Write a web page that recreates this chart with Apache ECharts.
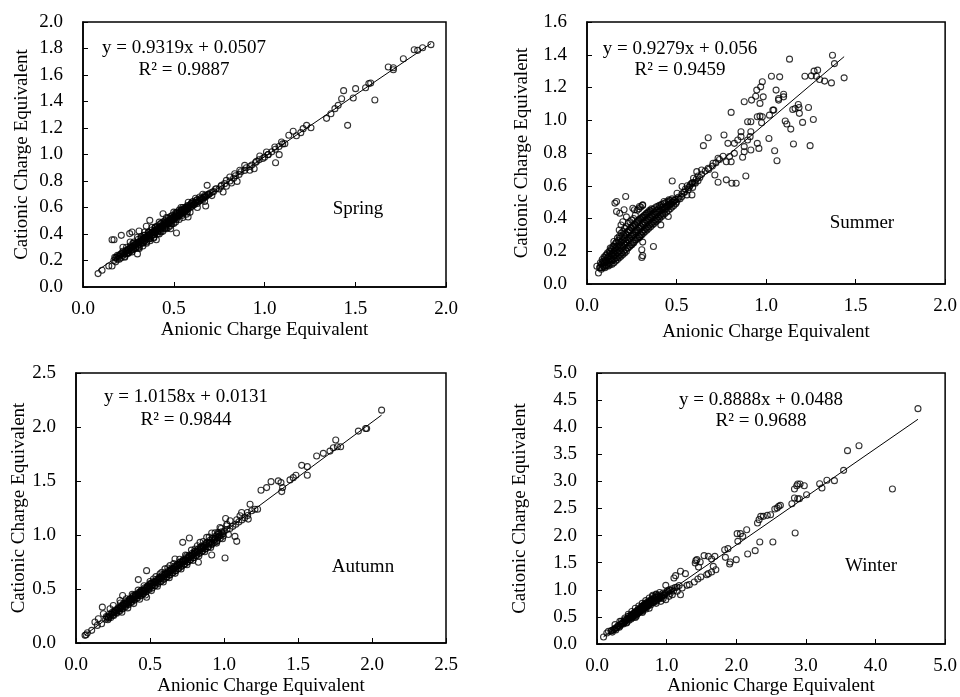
<!DOCTYPE html>
<html>
<head>
<meta charset="utf-8">
<script src="https://cdn.jsdelivr.net/npm/echarts@6/dist/echarts.min.js"></script>
<style>html,body{margin:0;padding:0;background:#fff;}#c{width:960px;height:697px;}</style>
</head>
<body>
<div id="c"></div>
<script>
// ---------- DATA ----------
const seasons = ["Spring", "Summer", "Autumn", "Winter"];
const slopes = [0.9319, 0.9279, 1.0158, 0.8888];
const intercepts = [0.0507, 0.056, 0.0131, 0.0488];
const r2Values = ["0.9887", "0.9459", "0.9844", "0.9688"];
const xMaxes = [2.0, 2.0, 2.5, 5.0];
const yMaxes = [2.0, 1.6, 2.5, 5.0];
const xIntervals = [0.5, 0.5, 0.5, 1.0];
const yIntervals = [0.2, 0.2, 0.5, 0.5];
const axisNameX = "Anionic Charge Equivalent";
const axisNameY = "Cationic Charge Equivalent";

const springPoints = [
[1.917,1.829],[1.871,1.806],[1.844,1.786],[1.825,1.791],[1.765,1.723],[1.710,1.655],[1.682,1.660],[1.71,1.64],
[1.585,1.54],[1.575,1.535],[1.557,1.504],[1.502,1.497],[1.489,1.426],[1.436,1.482],[1.425,1.421],[1.608,1.411],
[1.406,1.371],[1.388,1.346],[1.366,1.308],[1.342,1.273],[1.458,1.220],[1.256,1.202],[1.232,1.220],[1.213,1.195],
[1.200,1.165],[1.176,1.142],[1.158,1.175],[1.134,1.145],[1.112,1.082],[1.094,1.094],[1.057,1.057],[1.081,0.999],
[1.061,0.938],[1.011,1.019],[1.020,0.999],[0.974,0.989],[0.956,0.948],[0.943,0.893],[0.919,0.881],[0.891,0.918],
[0.864,0.881],[0.836,0.855],[0.809,0.830],[0.849,0.797],[0.790,0.805],[0.818,0.785],[0.763,0.767],[0.735,0.742],
[0.772,0.717],[0.713,0.717],[0.684,0.767],[0.676,0.611],[0.671,0.692],[0.643,0.679],[0.625,0.654],[0.597,0.629],
[0.579,0.528],[0.570,0.604],[0.542,0.579],[0.515,0.553],[0.515,0.408],[0.487,0.516],[0.483,0.440],[0.441,0.553],
[0.368,0.503],[0.349,0.458],[0.309,0.423],[0.270,0.415],[0.257,0.403],[0.211,0.390],[0.171,0.357],[0.160,0.357],
[0.160,0.158],[0.142,0.158],[0.105,0.126],[0.083,0.101],[0.404,0.357],
[0.17,0.20],[0.18,0.22],[0.18,0.19],[0.19,0.21],[0.19,0.24],[0.20,0.23],[0.20,0.21],[0.21,0.25],[0.21,0.22],
[0.22,0.24],[0.22,0.27],[0.23,0.25],[0.23,0.23],[0.24,0.27],[0.24,0.25],[0.25,0.28],[0.25,0.26],[0.26,0.29],
[0.26,0.27],[0.26,0.31],[0.27,0.28],[0.27,0.30],[0.28,0.31],[0.28,0.29],[0.28,0.33],[0.29,0.30],[0.29,0.32],
[0.30,0.33],[0.30,0.31],[0.30,0.25],[0.31,0.34],[0.31,0.32],[0.31,0.29],[0.32,0.35],[0.32,0.33],[0.32,0.37],
[0.33,0.34],[0.33,0.36],[0.33,0.31],[0.34,0.37],[0.34,0.35],[0.34,0.39],[0.35,0.36],[0.35,0.38],[0.35,0.33],
[0.36,0.39],[0.36,0.37],[0.36,0.41],[0.37,0.38],[0.37,0.40],[0.37,0.35],[0.38,0.41],[0.38,0.39],[0.38,0.43],
[0.39,0.40],[0.39,0.42],[0.39,0.37],[0.40,0.43],[0.40,0.41],[0.40,0.45],[0.41,0.42],[0.41,0.44],[0.41,0.46],
[0.42,0.45],[0.42,0.43],[0.42,0.40],[0.43,0.46],[0.43,0.44],[0.43,0.48],[0.44,0.45],[0.44,0.47],[0.44,0.42],
[0.45,0.48],[0.45,0.46],[0.45,0.50],[0.46,0.47],[0.46,0.49],[0.46,0.44],[0.47,0.50],[0.47,0.48],[0.47,0.52],
[0.48,0.49],[0.48,0.51],[0.48,0.46],[0.49,0.52],[0.49,0.50],[0.49,0.54],[0.50,0.51],[0.50,0.53],[0.50,0.48],
[0.51,0.54],[0.51,0.52],[0.51,0.56],[0.52,0.53],[0.52,0.55],[0.53,0.56],[0.53,0.54],[0.53,0.58],[0.54,0.55],
[0.54,0.57],[0.55,0.58],[0.55,0.56],[0.55,0.60],[0.56,0.57],[0.56,0.59],[0.57,0.60],[0.57,0.58],[0.58,0.61],
[0.58,0.59],[0.59,0.62],[0.60,0.61],[0.60,0.63],[0.61,0.62],[0.62,0.64],[0.63,0.63],[0.63,0.66],[0.64,0.65],
[0.65,0.67],[0.66,0.66],[0.67,0.68],[0.68,0.69],[0.69,0.70],[0.70,0.71],[0.71,0.69],[0.72,0.72],[0.73,0.74],
[0.75,0.74],[0.76,0.76],[0.78,0.78],[0.79,0.76],[0.81,0.80],[0.83,0.82],[0.84,0.84],[0.86,0.85],[0.87,0.87],
[0.89,0.88],[0.90,0.90],[0.92,0.91],[0.93,0.92],[0.95,0.94],[0.97,0.96],[0.99,0.97],[1.00,0.98],[1.02,1.00],
[1.04,1.02],[1.06,1.04],[1.08,1.06],[1.10,1.08]
];
const springCore = [
[0.175,0.225],[0.185,0.225],[0.195,0.235],[0.205,0.245],[0.215,0.255],[0.225,0.26],[0.235,0.275],[0.245,0.28],
[0.255,0.29],[0.265,0.30],[0.275,0.31],[0.285,0.32],[0.295,0.325],[0.305,0.34],[0.315,0.345],[0.325,0.355],
[0.335,0.365],[0.345,0.375],[0.355,0.385],[0.365,0.39],[0.375,0.405],[0.385,0.41],[0.395,0.42],[0.405,0.43],
[0.415,0.44],[0.425,0.45],[0.435,0.455],[0.445,0.47],[0.455,0.475],[0.465,0.485],[0.475,0.495],[0.485,0.505],
[0.495,0.515],[0.505,0.52],[0.515,0.535],[0.525,0.54],[0.535,0.55],[0.545,0.56],[0.555,0.57],[0.565,0.58],
[0.575,0.59],[0.585,0.60],[0.595,0.605],[0.605,0.62],[0.615,0.625],[0.625,0.64],[0.635,0.645],[0.645,0.655],
[0.655,0.665],[0.665,0.675],[0.675,0.68],[0.685,0.695],[0.695,0.70],
[0.245,0.255],[0.275,0.285],[0.305,0.30],[0.335,0.335],[0.365,0.365],[0.395,0.395],[0.425,0.42],[0.455,0.45],
[0.485,0.48],[0.515,0.51],[0.545,0.54],[0.575,0.565],
[0.275,0.33],[0.305,0.36],[0.335,0.39],[0.365,0.415],[0.395,0.445],[0.425,0.475],[0.455,0.50],[0.485,0.53],
[0.515,0.56],[0.545,0.585],[0.575,0.615],[0.605,0.645]
];
const springSpread = [
[0.22,0.30],[0.23,0.225],[0.26,0.34],[0.27,0.265],[0.30,0.375],[0.31,0.30],[0.34,0.415],[0.35,0.34],
[0.38,0.45],[0.39,0.375],[0.42,0.49],[0.43,0.415],[0.46,0.525],[0.47,0.45],[0.50,0.565],[0.51,0.49],
[0.54,0.60],[0.55,0.525],[0.58,0.64],[0.59,0.565],[0.62,0.67],[0.63,0.60],[0.66,0.70],[0.67,0.645],
[0.24,0.30],[0.28,0.34],[0.32,0.38],[0.36,0.415],[0.40,0.455],[0.44,0.49],[0.48,0.53],[0.52,0.565],
[0.56,0.60],[0.60,0.64],[0.25,0.255],[0.29,0.29],[0.33,0.33],[0.37,0.365],[0.41,0.40],[0.45,0.44],
[0.49,0.475],[0.53,0.51],[0.57,0.55]
];

const summerPoints = [
[1.371,1.397],[1.382,1.346],[1.131,1.373],[1.436,1.259],[1.365,1.228],[1.327,1.239],[1.299,1.249],[1.288,1.306],
[1.268,1.300],[1.253,1.271],[1.217,1.269],[1.281,1.269],[1.237,1.078],[1.264,1.005],[1.246,0.845],[1.204,0.987],
[1.180,1.096],[1.186,1.042],[1.162,1.072],[1.149,1.066],[1.184,1.078],[1.107,0.995],[1.116,0.977],[1.138,0.946],
[1.153,0.855],[1.098,1.159],[1.098,1.143],[1.070,1.133],[1.070,1.123],[1.056,1.184],[1.076,1.265],[1.030,1.269],
[1.038,1.062],[1.043,1.062],[1.019,1.031],[1.016,0.889],[1.048,0.814],[1.061,0.753],[0.979,1.235],[0.970,1.204],
[0.948,1.184],[0.984,1.143],[0.942,1.147],[0.966,1.103],[0.919,1.123],[0.878,1.113],[0.805,1.048],[0.966,1.025],
[0.979,1.021],[0.951,1.021],[0.915,0.991],[0.897,0.991],[0.975,0.985],[0.915,0.930],[0.860,0.930],[0.911,0.900],
[0.897,0.879],[0.878,0.839],[0.860,0.900],[0.842,0.879],[0.823,0.859],[0.787,0.859],[0.765,0.910],[0.677,0.893],
[0.650,0.845],[0.951,0.859],[0.960,0.828],[0.915,0.818],[0.878,0.808],[0.869,0.774],[0.823,0.798],[0.796,0.778],
[0.778,0.747],[0.805,0.747],[0.732,0.768],[0.704,0.737],[0.714,0.666],[0.732,0.621],[0.778,0.636],[0.809,0.615],
[0.833,0.615],[0.887,0.660],[0.677,0.707],[0.640,0.696],[0.613,0.686],[0.595,0.646],[0.586,0.615],[0.586,0.544],
[0.558,0.544],[0.531,0.595],[0.503,0.554],[0.476,0.629],[0.457,0.514],[0.430,0.504],[0.454,0.412],[0.412,0.361],
[0.371,0.229],[0.311,0.483],[0.293,0.473],[0.256,0.463],[0.265,0.453],[0.216,0.534],[0.207,0.453],[0.165,0.504],
[0.156,0.494],[0.165,0.443],[0.183,0.432],[0.311,0.256],[0.306,0.209],[0.311,0.173],[0.306,0.162],[0.293,0.284],
[0.064,0.067],[0.055,0.108],
[0.07,0.10],[0.08,0.12],[0.08,0.09],[0.09,0.11],[0.09,0.14],[0.10,0.10],[0.10,0.13],[0.10,0.16],[0.11,0.11],
[0.11,0.14],[0.11,0.18],[0.12,0.11],[0.12,0.14],[0.12,0.17],[0.13,0.12],[0.13,0.15],[0.13,0.19],[0.13,0.22],
[0.14,0.12],[0.14,0.15],[0.14,0.18],[0.14,0.21],[0.15,0.13],[0.15,0.17],[0.15,0.20],[0.15,0.23],[0.15,0.26],
[0.16,0.14],[0.16,0.18],[0.16,0.22],[0.16,0.25],[0.17,0.15],[0.17,0.19],[0.17,0.23],[0.17,0.28],[0.18,0.16],
[0.18,0.20],[0.18,0.24],[0.18,0.29],[0.18,0.33],[0.19,0.17],[0.19,0.22],[0.19,0.26],[0.19,0.31],[0.19,0.36],
[0.20,0.18],[0.20,0.23],[0.20,0.27],[0.20,0.32],[0.20,0.38],[0.21,0.19],[0.21,0.24],[0.21,0.28],[0.21,0.34],
[0.22,0.20],[0.22,0.25],[0.22,0.30],[0.22,0.35],[0.22,0.41],[0.23,0.22],[0.23,0.27],[0.23,0.32],[0.23,0.37],
[0.24,0.23],[0.24,0.28],[0.24,0.33],[0.24,0.38],[0.25,0.24],[0.25,0.29],[0.25,0.34],[0.25,0.39],[0.26,0.25],
[0.26,0.30],[0.26,0.35],[0.26,0.40],[0.27,0.27],[0.27,0.32],[0.27,0.36],[0.27,0.42],[0.28,0.28],[0.28,0.33],
[0.28,0.38],[0.28,0.45],[0.29,0.29],[0.29,0.34],[0.29,0.39],[0.29,0.46],[0.30,0.30],[0.30,0.35],[0.30,0.40],
[0.30,0.47],[0.31,0.32],[0.31,0.37],[0.31,0.41],[0.31,0.48],[0.32,0.33],[0.32,0.38],[0.32,0.42],[0.33,0.34],
[0.33,0.39],[0.33,0.43],[0.34,0.35],[0.34,0.40],[0.34,0.44],[0.35,0.36],[0.35,0.41],[0.35,0.45],[0.36,0.37],
[0.36,0.42],[0.36,0.46],[0.37,0.38],[0.37,0.43],[0.38,0.39],[0.38,0.44],[0.39,0.40],[0.39,0.45],[0.40,0.41],
[0.40,0.46],[0.41,0.42],[0.41,0.47],[0.42,0.43],[0.42,0.47],[0.43,0.45],[0.44,0.46],[0.45,0.47],[0.46,0.48],
[0.47,0.49],[0.48,0.50],[0.49,0.51],[0.50,0.50],[0.51,0.53],[0.52,0.52],[0.53,0.55],[0.54,0.56],[0.55,0.58],
[0.56,0.60],[0.57,0.59],[0.58,0.61],[0.59,0.62],[0.60,0.62],[0.61,0.64],[0.62,0.66],[0.63,0.65],[0.64,0.67],
[0.66,0.69],[0.68,0.70],[0.70,0.72],[0.72,0.74],[0.74,0.76],[0.76,0.78]
];
const summerCore = [
[0.075,0.10],[0.075,0.13],[0.085,0.10],[0.085,0.125],[0.085,0.15],[0.095,0.105],[0.095,0.135],[0.095,0.165],
[0.105,0.115],[0.105,0.145],[0.105,0.175],[0.115,0.12],[0.115,0.16],[0.115,0.19],[0.125,0.13],[0.125,0.165],
[0.125,0.20],[0.135,0.14],[0.135,0.18],[0.135,0.215],[0.145,0.145],[0.145,0.19],[0.145,0.23],[0.155,0.155],
[0.155,0.20],[0.155,0.24],[0.165,0.16],[0.165,0.21],[0.165,0.255],[0.175,0.17],[0.175,0.22],[0.175,0.265],
[0.185,0.18],[0.185,0.23],[0.185,0.28],[0.195,0.19],[0.195,0.24],[0.195,0.29],[0.205,0.20],[0.205,0.25],
[0.205,0.30],[0.215,0.21],[0.215,0.26],[0.215,0.31],[0.225,0.22],[0.225,0.27],[0.225,0.32],[0.235,0.23],
[0.235,0.28],[0.235,0.33],[0.245,0.24],[0.245,0.29],[0.245,0.345],[0.255,0.25],[0.255,0.30],[0.255,0.355],
[0.265,0.26],[0.265,0.31],[0.265,0.365],[0.275,0.27],[0.275,0.32],[0.275,0.375],[0.285,0.28],[0.285,0.33],
[0.285,0.385],[0.295,0.29],[0.295,0.34],[0.295,0.395],[0.305,0.30],[0.305,0.35],[0.305,0.405],[0.315,0.31],
[0.315,0.36],[0.315,0.41],[0.325,0.32],[0.325,0.37],[0.325,0.42],[0.335,0.33],[0.335,0.38],[0.335,0.43],
[0.345,0.34],[0.345,0.39],[0.345,0.44],[0.355,0.35],[0.355,0.40],[0.355,0.445],[0.365,0.36],[0.365,0.41],
[0.365,0.455],[0.375,0.37],[0.375,0.415],[0.375,0.46],[0.385,0.38],[0.385,0.425],[0.385,0.47],[0.395,0.39],
[0.395,0.435],[0.395,0.475],[0.405,0.40],[0.405,0.445],[0.405,0.48],[0.415,0.41],[0.415,0.45],[0.415,0.485],
[0.425,0.42],[0.425,0.46],[0.425,0.49],[0.435,0.43],[0.435,0.47],[0.435,0.495],[0.445,0.44],[0.445,0.475],
[0.445,0.50],[0.455,0.45],[0.455,0.485],[0.455,0.505],[0.465,0.46],[0.465,0.49],[0.465,0.51],[0.475,0.47],
[0.475,0.50],[0.475,0.52],[0.485,0.48],[0.485,0.51],[0.495,0.49],[0.495,0.515],[0.51,0.52],[0.53,0.535],
[0.545,0.56],[0.565,0.575],[0.575,0.60],[0.59,0.59],[0.605,0.615],[0.62,0.63]
];

const autumnPoints = [
[2.065,2.156],[1.964,1.986],[1.957,1.986],[1.908,1.962],[1.788,1.817],[1.766,1.817],[1.755,1.879],[1.739,1.808],
[1.716,1.777],[1.671,1.756],[1.626,1.731],[1.563,1.633],[1.563,1.553],[1.525,1.645],[1.486,1.553],[1.468,1.531],
[1.446,1.510],[1.396,1.439],[1.390,1.402],[1.385,1.485],[1.367,1.501],[1.318,1.494],[1.288,1.439],[1.250,1.415],
[1.227,1.239],[1.209,1.239],[1.176,1.285],[1.187,1.224],[1.158,1.208],[1.164,1.147],[1.119,1.208],[1.108,1.178],
[1.086,1.141],[1.074,0.987],[1.086,0.941],[1.041,1.132],[1.011,1.153],[1.007,0.787],[1.018,1.085],[0.973,1.070],
[0.962,1.024],[0.917,1.018],[0.883,0.978],[0.917,0.815],[0.838,0.932],[0.766,0.972],[0.721,0.932],[0.804,0.870],
[0.827,0.747],[0.748,0.809],[0.703,0.747],[0.669,0.778],[0.635,0.716],[0.601,0.686],[0.568,0.640],[0.477,0.670],
[0.523,0.593],[0.500,0.547],[0.421,0.587],[0.455,0.455],[0.477,0.424],[0.432,0.470],[0.387,0.440],[0.365,0.409],
[0.315,0.440],[0.297,0.394],[0.252,0.347],[0.230,0.317],[0.178,0.332],[0.185,0.271],[0.151,0.224],[0.128,0.194],
[0.106,0.117],[0.077,0.095],[0.068,0.077],[0.061,0.071],[0.173,0.178],[0.144,0.163],
[0.20,0.22],[0.21,0.24],[0.22,0.23],[0.23,0.25],[0.24,0.27],[0.25,0.26],[0.25,0.28],[0.26,0.29],[0.27,0.28],
[0.27,0.30],[0.28,0.31],[0.29,0.30],[0.29,0.32],[0.30,0.33],[0.31,0.32],[0.31,0.34],[0.32,0.35],[0.33,0.34],
[0.33,0.36],[0.34,0.37],[0.35,0.36],[0.35,0.38],[0.36,0.39],[0.37,0.38],[0.37,0.40],[0.38,0.41],[0.39,0.40],
[0.39,0.42],[0.40,0.43],[0.41,0.42],[0.41,0.44],[0.42,0.45],[0.43,0.44],[0.43,0.46],[0.44,0.47],[0.45,0.46],
[0.45,0.48],[0.46,0.49],[0.47,0.48],[0.47,0.50],[0.48,0.51],[0.49,0.50],[0.49,0.53],[0.50,0.52],[0.51,0.53],
[0.51,0.55],[0.52,0.54],[0.53,0.56],[0.53,0.53],[0.54,0.57],[0.55,0.56],[0.55,0.58],[0.56,0.59],[0.57,0.57],
[0.57,0.60],[0.58,0.61],[0.59,0.59],[0.59,0.62],[0.60,0.63],[0.61,0.61],[0.61,0.64],[0.62,0.65],[0.63,0.63],
[0.63,0.66],[0.64,0.67],[0.65,0.65],[0.65,0.68],[0.66,0.69],[0.67,0.67],[0.67,0.70],[0.68,0.71],[0.69,0.69],
[0.69,0.72],[0.70,0.73],[0.71,0.71],[0.71,0.74],[0.72,0.75],[0.73,0.73],[0.73,0.76],[0.74,0.77],[0.75,0.75],
[0.75,0.78],[0.76,0.79],[0.77,0.77],[0.77,0.80],[0.78,0.81],[0.79,0.79],[0.79,0.82],[0.80,0.83],[0.81,0.81],
[0.81,0.84],[0.82,0.85],[0.83,0.83],[0.83,0.86],[0.84,0.87],[0.85,0.85],[0.85,0.88],[0.86,0.89],[0.87,0.87],
[0.87,0.90],[0.88,0.91],[0.89,0.89],[0.90,0.92],[0.91,0.93],[0.92,0.92],[0.93,0.95],[0.94,0.96],[0.95,0.94],
[0.96,0.98],[0.97,0.99],[0.98,1.00],[0.99,1.01],[1.00,1.03],[1.02,1.05],[1.04,1.06],[1.06,1.08],[1.08,1.10],
[1.10,1.12],[1.12,1.14],[1.14,1.16],[1.16,1.18]
];
const autumnCore = [
[0.205,0.245],[0.215,0.215],[0.225,0.265],[0.235,0.235],[0.245,0.285],[0.255,0.255],[0.265,0.305],[0.275,0.275],
[0.285,0.325],[0.295,0.295],[0.305,0.345],[0.315,0.315],[0.325,0.365],[0.335,0.335],[0.345,0.385],[0.355,0.355],
[0.365,0.405],[0.375,0.375],[0.385,0.43],[0.395,0.395],[0.405,0.45],[0.415,0.415],[0.425,0.47],[0.435,0.435],
[0.445,0.49],[0.455,0.455],[0.465,0.51],[0.475,0.475],[0.485,0.53],[0.495,0.495],[0.505,0.55],[0.515,0.51],
[0.525,0.57],[0.535,0.53],[0.545,0.59],[0.555,0.55],[0.565,0.61],[0.575,0.57],[0.585,0.63],[0.595,0.59],
[0.605,0.65],[0.615,0.61],[0.625,0.67],[0.635,0.63],[0.645,0.69],[0.655,0.65],[0.665,0.71],[0.675,0.67],
[0.685,0.73],[0.695,0.69],[0.705,0.75],[0.715,0.71],[0.725,0.77],[0.735,0.73],[0.745,0.79],[0.755,0.75],
[0.765,0.81],[0.775,0.77],[0.785,0.83],[0.795,0.79],[0.805,0.85],[0.815,0.81],[0.825,0.87],[0.835,0.83],
[0.845,0.89],[0.855,0.85],[0.865,0.91],[0.875,0.87],[0.885,0.93],[0.895,0.89],[0.905,0.95],[0.915,0.91],
[0.925,0.97],[0.935,0.93],[0.945,0.99],[0.955,0.95],[0.965,1.01],[0.975,0.97],[0.985,1.03],[0.995,0.99],
[0.22,0.24],[0.26,0.28],[0.30,0.32],[0.34,0.36],[0.38,0.40],[0.42,0.44],[0.46,0.48],[0.50,0.52],[0.54,0.56],
[0.58,0.60],[0.62,0.64],[0.66,0.68],[0.70,0.72],[0.74,0.76],[0.78,0.80],[0.82,0.84],[0.86,0.88],[0.90,0.93],
[0.94,0.97]
];
const autumnSpread = [
[0.30,0.37],[0.31,0.285],[0.34,0.41],[0.35,0.325],[0.38,0.45],[0.39,0.365],[0.42,0.49],[0.43,0.405],
[0.46,0.53],[0.47,0.445],[0.50,0.57],[0.51,0.485],[0.54,0.615],[0.55,0.525],[0.58,0.655],[0.59,0.565],
[0.62,0.695],[0.63,0.605],[0.66,0.735],[0.67,0.645],[0.70,0.775],[0.71,0.685],[0.74,0.815],[0.75,0.725],
[0.78,0.86],[0.79,0.765],[0.82,0.90],[0.83,0.805],[0.86,0.94],[0.87,0.845],[0.90,0.98],[0.91,0.885],
[0.94,1.02],[0.95,0.925],[0.98,1.06],[0.99,0.965],[1.02,1.10],[1.03,1.005],
[0.32,0.365],[0.36,0.405],[0.40,0.445],[0.44,0.485],[0.48,0.52],[0.52,0.56],[0.56,0.60],[0.60,0.64],
[0.64,0.68],[0.68,0.72],[0.72,0.76],[0.76,0.80],[0.80,0.845],[0.84,0.885],[0.88,0.925],[0.92,0.965],[0.96,1.005]
];

const winterPoints = [
[4.610,4.342],[3.598,3.567],[3.763,3.659],[4.243,2.860],[3.542,3.204],[3.410,3.014],[3.302,3.020],[3.231,2.878],
[3.198,2.958],[3.010,2.755],[2.977,2.921],[2.916,2.952],[2.883,2.952],[2.869,2.921],[2.836,2.860],[2.907,2.681],
[2.883,2.681],[2.836,2.694],[2.799,2.589],[2.846,2.048],[2.634,2.558],[2.610,2.540],[2.587,2.509],[2.554,2.491],
[2.493,2.386],[2.446,2.374],[2.389,2.355],[2.352,2.355],[2.328,2.294],[2.305,2.232],[2.526,1.882],[2.338,1.882],
[2.272,1.722],[2.164,1.661],[2.150,2.109],[2.093,1.986],[2.060,2.036],[2.013,2.036],[2.023,1.894],[2.000,1.556],
[1.914,1.513],[1.905,1.476],[1.881,1.759],[1.834,1.740],[1.844,1.599],[1.693,1.617],[1.646,1.568],[1.599,1.617],
[1.538,1.630],[1.482,1.513],[1.435,1.556],[1.411,1.494],[1.458,1.421],[1.420,1.538],[1.707,1.371],[1.670,1.433],
[1.646,1.328],[1.599,1.298],[1.576,1.279],[1.491,1.236],[1.449,1.199],[1.397,1.144],[1.326,1.095],[1.293,1.082],
[1.270,1.298],[1.199,1.341],[1.129,1.261],[1.105,1.218],[0.988,1.082],[1.223,1.033],[1.199,0.910],[1.152,0.972],
[1.082,0.910],[1.035,0.879],[0.988,0.818],[0.917,0.787],[0.847,0.910],[0.800,0.879],[0.776,0.818],[0.729,0.756],
[0.682,0.726],[0.635,0.664],[0.588,0.633],[0.541,0.572],[0.494,0.541],[0.447,0.510],[0.400,0.449],[0.329,0.418],
[0.259,0.357],[0.165,0.234],[0.141,0.203],[0.094,0.129],[0.423,0.387],[0.564,0.510],[0.659,0.603],[0.706,0.646],
[0.20,0.24],[0.22,0.22],[0.25,0.27],[0.28,0.30],[0.30,0.33],[0.32,0.31],[0.34,0.36],[0.36,0.38],[0.38,0.37],
[0.40,0.41],[0.42,0.44],[0.43,0.40],[0.45,0.47],[0.46,0.44],[0.48,0.50],[0.49,0.46],[0.50,0.53],[0.51,0.49],
[0.52,0.56],[0.53,0.51],[0.54,0.58],[0.55,0.53],[0.56,0.60],[0.57,0.55],[0.58,0.62],[0.59,0.57],[0.60,0.64],
[0.61,0.59],[0.62,0.67],[0.63,0.61],[0.64,0.69],[0.65,0.63],[0.66,0.71],[0.67,0.65],[0.68,0.73],[0.69,0.67],
[0.70,0.75],[0.71,0.69],[0.72,0.77],[0.73,0.70],[0.74,0.72],[0.75,0.79],[0.76,0.74],[0.78,0.76],[0.79,0.82],
[0.80,0.77],[0.82,0.79],[0.83,0.86],[0.84,0.80],[0.86,0.82],[0.87,0.90],[0.88,0.84],[0.90,0.86],[0.92,0.88],
[0.94,0.89],[0.96,0.91],[0.98,0.93],[1.00,0.95],[1.03,0.97],[1.06,0.99]
];
const winterCore = [
[0.21,0.25],[0.23,0.26],[0.26,0.29],[0.27,0.26],[0.29,0.31],[0.31,0.34],[0.33,0.33],[0.35,0.37],[0.37,0.40],
[0.39,0.39],[0.41,0.43],[0.44,0.46],[0.47,0.48],[0.47,0.52],[0.50,0.50],[0.52,0.52],[0.53,0.55],[0.55,0.57],
[0.57,0.58],[0.58,0.56],[0.60,0.60],[0.61,0.63],[0.62,0.60],[0.63,0.65],[0.64,0.62],[0.65,0.67],[0.66,0.64],
[0.67,0.69],[0.68,0.66],[0.69,0.71],[0.70,0.68],[0.71,0.73],[0.72,0.70],[0.73,0.75],[0.74,0.74],[0.76,0.77],
[0.77,0.72],[0.78,0.80],[0.80,0.80],[0.81,0.76],[0.82,0.84],[0.85,0.86],[0.85,0.79],[0.88,0.88],[0.89,0.83],
[0.91,0.91],[0.93,0.86],[0.95,0.94],[0.97,0.90],[1.01,0.98],[1.04,1.00],[1.08,1.02],[1.10,0.98],[1.12,1.04],
[1.15,1.05],[1.18,1.08],
[0.45,0.55],[0.50,0.60],[0.55,0.66],[0.60,0.70],[0.65,0.75],[0.70,0.80],[0.75,0.85],[0.80,0.90],[0.85,0.92],
[0.90,0.95],[0.55,0.49],[0.65,0.58],[0.75,0.66],[0.85,0.75],[0.95,0.84],[1.05,0.93],[0.40,0.48],[0.35,0.42]
];

const allPoints = [
  springPoints.concat(springCore, springSpread),
  summerPoints.concat(summerCore),
  autumnPoints.concat(autumnCore, autumnSpread),
  winterPoints.concat(winterCore)
];

// ---------- LAYOUT ----------
const grids = [
  {left: 83, top: 22, width: 363, height: 265},
  {left: 587, top: 22, width: 364, height: 262},
  {left: 76, top: 373, width: 370, height: 271},
  {left: 597, top: 373, width: 354, height: 271}
];
const yNameGaps = [51, 55, 47, 67];
const xNameGaps = [34, 39, 34, 33];
const eqPos = [[184, 48, 70], [680, 49, 70], [186, 397, 420], [761, 400, 421]];
const seasonPos = [[358, 209], [862, 223], [363, 567], [871, 566]];

const FONT = '"Liberation Serif", "Times New Roman", serif';
const FS = 19;

const chart = echarts.init(document.getElementById('c'), null, {renderer: 'canvas'});

const xAxes = [], yAxes = [], series = [], graphics = [];
for (let i = 0; i < 4; i++) {
  const common = {
    gridIndex: i, type: 'value', min: 0,
    axisLine: {show: true, lineStyle: {color: '#000', width: 1.5}},
    axisTick: {show: true, inside: true, length: 5, lineStyle: {color: '#000', width: 1}},
    splitLine: {show: false},
    nameLocation: 'middle',
    nameTextStyle: {fontFamily: FONT, fontSize: FS, color: '#000'},
  };
  xAxes.push(Object.assign({}, common, {
    max: xMaxes[i], interval: xIntervals[i],
    name: axisNameX, nameGap: xNameGaps[i],
    axisLabel: {fontFamily: FONT, fontSize: FS, color: '#000', margin: 13, formatter: v => v.toFixed(1)}
  }));
  yAxes.push(Object.assign({}, common, {
    max: yMaxes[i], interval: yIntervals[i],
    name: axisNameY, nameGap: yNameGaps[i],
    axisLabel: {fontFamily: FONT, fontSize: FS, color: '#000', margin: 20, formatter: v => v.toFixed(1)}
  }));
  const pts = allPoints[i];
  series.push({
    type: 'scatter', xAxisIndex: i, yAxisIndex: i, data: pts,
    symbol: 'circle', symbolSize: 6,
    itemStyle: {color: 'rgba(255,255,255,0)', borderColor: '#000', borderWidth: 1.1},
    silent: true
  });
  let xmin = Infinity, xmax = -Infinity;
  pts.forEach(p => { if (p[0] < xmin) xmin = p[0]; if (p[0] > xmax) xmax = p[0]; });
  series.push({
    type: 'line', xAxisIndex: i, yAxisIndex: i, symbol: 'none',
    data: [[xmin, slopes[i] * xmin + intercepts[i]], [xmax, slopes[i] * xmax + intercepts[i]]],
    lineStyle: {color: '#000', width: 1}, silent: true, z: 3
  });
  const eq = 'y = ' + slopes[i].toFixed(4) + 'x + ' + String(intercepts[i]);
  graphics.push({type: 'text', x: eqPos[i][0], y: eqPos[i][1],
    style: {text: eq, font: FS + 'px ' + FONT, fill: '#000', textAlign: 'center', textVerticalAlign: 'middle'}});
  graphics.push({type: 'text', x: eqPos[i][0], y: eqPos[i][2],
    style: {text: 'R\u00B2 = ' + r2Values[i], font: FS + 'px ' + FONT, fill: '#000', textAlign: 'center', textVerticalAlign: 'middle'}});
  graphics.push({type: 'text', x: seasonPos[i][0], y: seasonPos[i][1],
    style: {text: seasons[i], font: FS + 'px ' + FONT, fill: '#000', textAlign: 'center', textVerticalAlign: 'middle'}});
}

chart.setOption({
  animation: false,
  backgroundColor: '#fff',
  grid: grids.map(g => Object.assign({show: true, borderColor: '#000', borderWidth: 1.5, backgroundColor: 'transparent'}, g)),
  xAxis: xAxes,
  yAxis: yAxes,
  series: series,
  graphic: graphics
});
</script>
</body>
</html>
